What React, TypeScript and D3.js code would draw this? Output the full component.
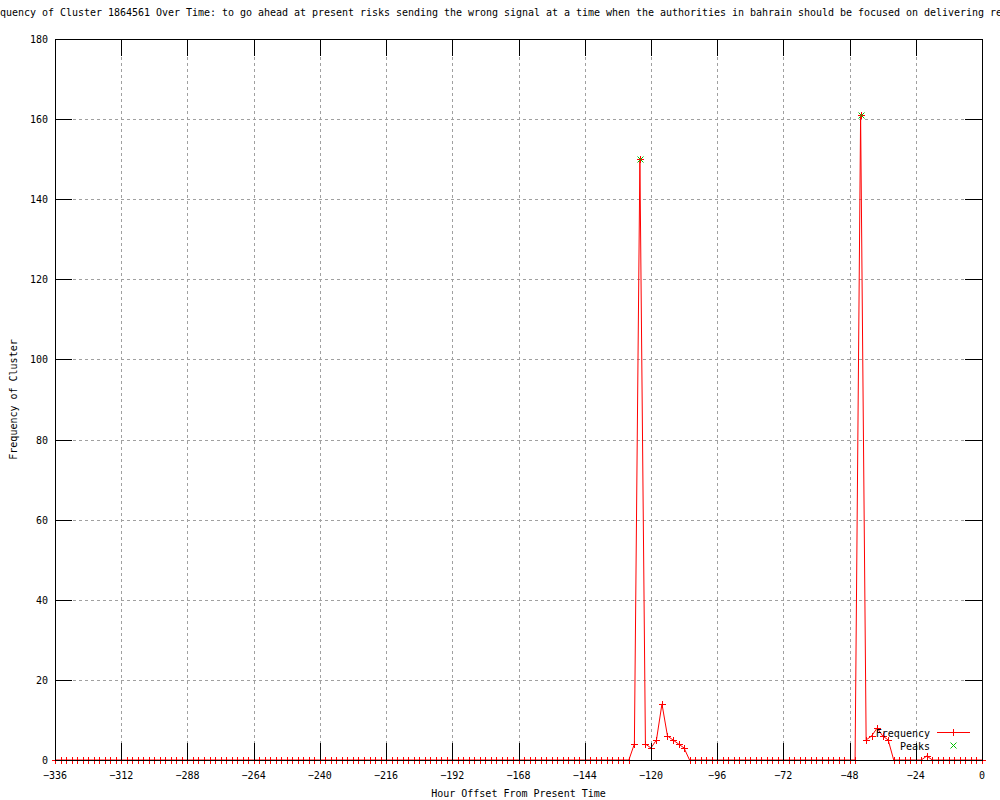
import React from "react";
import * as d3 from "d3";

const TITLE =
  "Frequency of Cluster 1864561 Over Time: to go ahead at present risks sending the wrong signal at a time when the authorities in bahrain should be focused on delivering re";
const X_LABEL = "Hour Offset From Present Time";
const Y_LABEL = "Frequency of Cluster";

// hours -336 .. 0 in steps of 2
const hours: number[] = d3.range(-336, 1, 2);
// frequency per 2-hour slot (169 values)
const freq: number[] = [
  0, 0, 0, 0, 0, 0, 0, 0, 0, 0, // -336..-318
  0, 0, 0, 0, 0, 0, 0, 0, 0, 0, // -316..-298
  0, 0, 0, 0, 0, 0, 0, 0, 0, 0, // -296..-278
  0, 0, 0, 0, 0, 0, 0, 0, 0, 0, // -276..-258
  0, 0, 0, 0, 0, 0, 0, 0, 0, 0, // -256..-238
  0, 0, 0, 0, 0, 0, 0, 0, 0, 0, // -236..-218
  0, 0, 0, 0, 0, 0, 0, 0, 0, 0, // -216..-198
  0, 0, 0, 0, 0, 0, 0, 0, 0, 0, // -196..-178
  0, 0, 0, 0, 0, 0, 0, 0, 0, 0, // -176..-158
  0, 0, 0, 0, 0, 0, 0, 0, 0, 0, // -156..-138
  0, 0, 0, 0, 0, 4, 150, 4, 3, 5, // -136..-118
  14, 6, 5, 4, 3, 0, 0, 0, 0, 0, // -116..-98
  0, 0, 0, 0, 0, 0, 0, 0, 0, 0, // -96..-78
  0, 0, 0, 0, 0, 0, 0, 0, 0, 0, // -76..-58
  0, 0, 0, 0, 0, 0, 161, 5, 6, 8, // -56..-38
  6, 5, 0, 0, 0, 0, 0, 0, 1, 0, // -36..-18
  0, 0, 0, 0, 0, 0, 0, 0, 0, // -16..0
];
const peakHours: number[] = [-124, -44];
const peakValues: number[] = [150, 161];

const xTicks: number[] = [-336, -312, -288, -264, -240, -216, -192, -168, -144, -120, -96, -72, -48, -24, 0];
const yTicks: number[] = [0, 20, 40, 60, 80, 100, 120, 140, 160, 180];

const FONT = "'DejaVu Sans Mono', 'Liberation Mono', monospace";

export default function App() {
  const left = 55;
  const right = 982;
  const top = 39;
  const bottom = 760;
  const x = d3.scaleLinear().domain([-336, 0]).range([left, right]);
  const y = d3.scaleLinear().domain([0, 180]).range([bottom, top]);
  const tick = 17;

  const data = hours.map((h, i) => ({ h, v: freq[i] }));
  const line = d3
    .line<{ h: number; v: number }>()
    .x((d) => x(d.h))
    .y((d) => y(d.v));

  const plus = (cx: number, cy: number, s: number) =>
    `M${cx - s},${cy}H${cx + s}M${cx},${cy - s}V${cy + s}`;
  const cross = (cx: number, cy: number, s: number) =>
    `M${cx - s},${cy - s}L${cx + s},${cy + s}M${cx - s},${cy + s}L${cx + s},${cy - s}`;

  const r = (v: number) => Math.round(v) + 0.5;

  return (
    <div style={{ position: "absolute", left: 0, top: 0 }}>
      <svg width={1000} height={800} style={{ display: "block", background: "#fff" }}>
        {/* grid */}
        <g stroke="#a0a0a0" strokeDasharray="3,3" shapeRendering="crispEdges">
          {xTicks
            .filter((t) => t !== -336 && t !== 0)
            .map((t) => (
              <line key={"gx" + t} x1={r(x(t))} x2={r(x(t))} y1={top} y2={bottom} />
            ))}
          {yTicks
            .filter((t) => t !== 0 && t !== 180)
            .map((t) => (
              <line key={"gy" + t} x1={left} x2={right} y1={r(y(t))} y2={r(y(t))} />
            ))}
        </g>

        {/* frequency series */}
        <path d={line(data) || ""} fill="none" stroke="#ff0000" strokeWidth={1} />
        <g stroke="#ff0000" strokeWidth={1} shapeRendering="crispEdges">
          {data.map((d) => (
            <path key={"p" + d.h} d={plus(r(x(d.h)), r(y(d.v)), 3.5)} />
          ))}
        </g>

        {/* peaks */}
        <g stroke="#00c000" strokeWidth={1}>
          {peakHours.map((h, i) => (
            <path key={"pk" + h} d={cross(r(x(h)), r(y(peakValues[i])), 3)} />
          ))}
        </g>

        {/* border and ticks */}
        <g stroke="#000" strokeWidth={1} shapeRendering="crispEdges" fill="none">
          <rect x={left + 0.5} y={top + 0.5} width={right - left} height={bottom - top} />
          {xTicks.map((t) => (
            <g key={"tx" + t}>
              <line x1={r(x(t))} x2={r(x(t))} y1={bottom} y2={bottom - tick} />
              <line x1={r(x(t))} x2={r(x(t))} y1={top} y2={top + tick} />
            </g>
          ))}
          {yTicks.map((t) => (
            <g key={"ty" + t}>
              <line x1={left} x2={left + tick} y1={r(y(t))} y2={r(y(t))} />
              <line x1={right} x2={right - tick} y1={r(y(t))} y2={r(y(t))} />
            </g>
          ))}
        </g>

        {/* tick labels */}
        <g fontFamily={FONT} fontSize={10} fill="#000">
          {xTicks.map((t) => (
            <text key={"lx" + t} x={x(t)} y={779} textAnchor="middle">
              {t === 0 ? "0" : "\u2212" + Math.abs(t)}
            </text>
          ))}
          {yTicks.map((t) => (
            <text key={"ly" + t} x={48} y={y(t) + 4} textAnchor="end">
              {t}
            </text>
          ))}
          <text x={(left + right) / 2} y={797} textAnchor="middle">
            {X_LABEL}
          </text>
          <text
            transform={`translate(${17},${(top + bottom) / 2}) rotate(-90)`}
            textAnchor="middle"
          >
            {Y_LABEL}
          </text>
          <text x={-18} y={16} textAnchor="start" textLength={TITLE.length * 6} lengthAdjust="spacing">
            {TITLE}
          </text>

          {/* legend */}
          <text x={930} y={737} textAnchor="end">
            Frequency
          </text>
          <text x={930} y={750} textAnchor="end">
            Peaks
          </text>
        </g>
        <g shapeRendering="crispEdges">
          <line x1={937} x2={970} y1={732.5} y2={732.5} stroke="#ff0000" />
          <path d={plus(953.5, 732.5, 3.5)} stroke="#ff0000" />
        </g>
        <path d={cross(953.5, 745.5, 3)} stroke="#00c000" />
      </svg>
    </div>
  );
}
